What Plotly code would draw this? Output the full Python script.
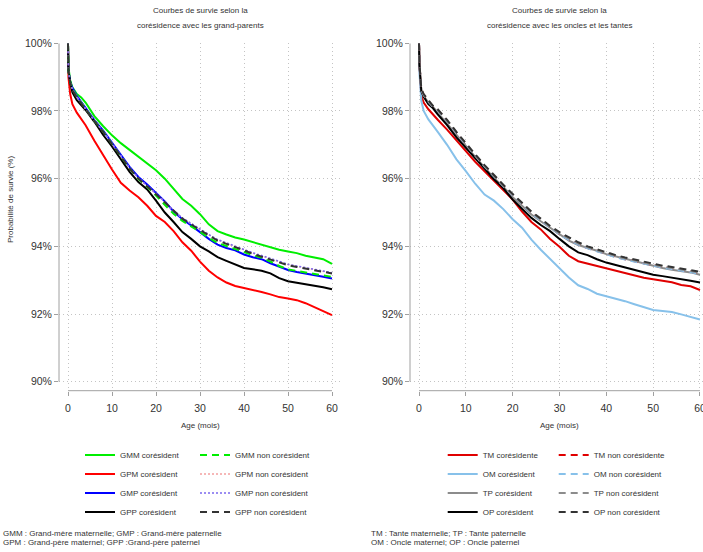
import plotly.graph_objects as go

# ---------------- data ----------------
age = [0, 0.1, 0.5, 1, 2, 3, 4, 6, 8, 10, 12, 14, 16, 18, 20, 22, 24, 26, 28, 30,
       32, 34, 36, 38, 40, 42, 44, 46, 48, 50, 52, 54, 56, 58, 60]

# Left panel: grands-parents
gmm_cor = [100, 99.3, 98.9, 98.7, 98.5, 98.4, 98.25, 97.85, 97.55, 97.28, 97.05, 96.85, 96.65, 96.45, 96.25, 96.0,
           95.7, 95.4, 95.2, 94.95, 94.65, 94.45, 94.35, 94.26, 94.2, 94.12, 94.05, 93.97, 93.9, 93.85, 93.8, 93.72,
           93.66, 93.62, 93.48]
gpm_cor = [100, 99.0, 98.5, 98.2, 97.95, 97.78, 97.58, 97.12, 96.68, 96.27, 95.88, 95.65, 95.45, 95.2, 94.9, 94.72,
           94.45, 94.12, 93.87, 93.55, 93.28, 93.08, 92.93, 92.83, 92.77, 92.72, 92.65, 92.58, 92.5, 92.46, 92.41,
           92.32, 92.2, 92.1, 91.97]
gmp_cor = [100, 99.2, 98.87, 98.68, 98.45, 98.27, 98.1, 97.73, 97.42, 97.06, 96.68, 96.35, 96.05, 95.83, 95.58, 95.33,
           95.03, 94.8, 94.62, 94.42, 94.22, 94.05, 93.95, 93.88, 93.76, 93.68, 93.62, 93.5, 93.39, 93.3, 93.24, 93.2,
           93.16, 93.1, 93.05]
gpp_cor = [100, 99.2, 98.84, 98.55, 98.32, 98.18, 98.03, 97.68, 97.29, 96.95, 96.58, 96.2, 95.9, 95.68, 95.35, 95.0,
           94.72, 94.42, 94.22, 94.0, 93.85, 93.68, 93.57, 93.46, 93.36, 93.32, 93.28, 93.2, 93.06, 92.97, 92.93,
           92.88, 92.84, 92.79, 92.73]
gmm_non = [100, 99.2, 98.86, 98.64, 98.42, 98.24, 98.08, 97.71, 97.39, 97.03, 96.64, 96.3, 95.99, 95.76, 95.5, 95.24,
           94.96, 94.75, 94.6, 94.43, 94.25, 94.1, 94.01, 93.93, 93.83, 93.74, 93.66, 93.55, 93.42, 93.32, 93.27,
           93.22, 93.18, 93.14, 93.1]
gpm_non = [100, 99.2, 98.85, 98.63, 98.41, 98.23, 98.07, 97.71, 97.39, 97.03, 96.65, 96.31, 96.01, 95.79, 95.55, 95.31,
           95.05, 94.83, 94.66, 94.5, 94.34, 94.19, 94.1, 94.0, 93.9, 93.8, 93.72, 93.62, 93.54, 93.46, 93.41, 93.36,
           93.31, 93.27, 93.21]
gmp_non = [100, 99.2, 98.86, 98.64, 98.42, 98.24, 98.07, 97.71, 97.4, 97.04, 96.66, 96.32, 96.02, 95.8, 95.56, 95.32,
           95.06, 94.84, 94.67, 94.51, 94.35, 94.2, 94.1, 94.01, 93.91, 93.81, 93.73, 93.64, 93.55, 93.47, 93.42,
           93.37, 93.32, 93.28, 93.22]
gpp_non = [100, 99.2, 98.85, 98.62, 98.4, 98.22, 98.06, 97.7, 97.38, 97.02, 96.64, 96.3, 96.0, 95.78, 95.54, 95.3,
           95.05, 94.82, 94.65, 94.48, 94.32, 94.17, 94.08, 93.99, 93.88, 93.78, 93.7, 93.6, 93.52, 93.44, 93.39,
           93.34, 93.3, 93.26, 93.2]

# Right panel: oncles et tantes
tm_cor = [100, 99.3, 98.45, 98.25, 98.05, 97.88, 97.74, 97.45, 97.13, 96.82, 96.5, 96.22, 95.94, 95.67, 95.38, 95.03,
          94.72, 94.5, 94.22, 93.99, 93.72, 93.56, 93.49, 93.41, 93.34, 93.27, 93.21, 93.14, 93.07, 93.03, 92.99,
          92.94, 92.86, 92.82, 92.71]
om_cor = [100, 99.1, 98.3, 98.0, 97.75, 97.55, 97.38, 97.0, 96.57, 96.22, 95.85, 95.53, 95.35, 95.1, 94.8, 94.55,
          94.2, 93.9, 93.63, 93.38, 93.08, 92.85, 92.74, 92.6, 92.53, 92.46, 92.38, 92.29, 92.2, 92.12, 92.09, 92.06,
          91.99, 91.92, 91.84]
tp_cor = [100, 99.35, 98.6, 98.45, 98.24, 98.12, 97.95, 97.62, 97.27, 96.96, 96.64, 96.33, 96.02, 95.76, 95.45, 95.2,
          94.94, 94.74, 94.55, 94.36, 94.17, 94.04, 93.96, 93.87, 93.77, 93.7, 93.62, 93.56, 93.48, 93.42, 93.36,
          93.31, 93.27, 93.23, 93.16]
op_cor = [100, 99.35, 98.58, 98.42, 98.2, 98.08, 97.9, 97.58, 97.22, 96.92, 96.6, 96.3, 95.98, 95.72, 95.38, 95.12,
          94.84, 94.63, 94.45, 94.22, 94.0, 93.82, 93.74, 93.62, 93.52, 93.45, 93.38, 93.3, 93.22, 93.16, 93.12,
          93.08, 93.04, 92.98, 92.93]
tm_non = [100, 99.38, 98.63, 98.48, 98.29, 98.13, 98.02, 97.71, 97.35, 97.01, 96.69, 96.37, 96.07, 95.79, 95.51, 95.26,
          94.98, 94.77, 94.55, 94.36, 94.2, 94.06, 93.95, 93.86, 93.77, 93.69, 93.62, 93.56, 93.49, 93.42, 93.38,
          93.34, 93.3, 93.26, 93.2]
om_non = [100, 99.37, 98.62, 98.47, 98.28, 98.12, 98.01, 97.7, 97.34, 97.0, 96.68, 96.36, 96.06, 95.78, 95.5, 95.25,
          94.97, 94.76, 94.54, 94.35, 94.19, 94.05, 93.94, 93.85, 93.76, 93.68, 93.61, 93.55, 93.48, 93.41, 93.37,
          93.33, 93.29, 93.25, 93.19]
tp_non = [100, 99.38, 98.62, 98.47, 98.29, 98.13, 98.02, 97.71, 97.35, 97.01, 96.69, 96.37, 96.07, 95.79, 95.52, 95.27,
          95.0, 94.79, 94.57, 94.38, 94.22, 94.08, 93.97, 93.88, 93.79, 93.71, 93.64, 93.58, 93.51, 93.44, 93.4,
          93.36, 93.32, 93.28, 93.22]
op_non = [100, 99.4, 98.65, 98.5, 98.32, 98.15, 98.05, 97.74, 97.38, 97.04, 96.72, 96.4, 96.1, 95.82, 95.55, 95.3,
          95.03, 94.82, 94.6, 94.42, 94.26, 94.12, 94.0, 93.91, 93.82, 93.74, 93.67, 93.61, 93.54, 93.47, 93.43,
          93.39, 93.35, 93.31, 93.25]

y_ticks = [90, 92, 94, 96, 98, 100]
y_tick_labels = ["90%", "92%", "94%", "96%", "98%", "100%"]
x_ticks = [0, 10, 20, 30, 40, 50, 60]

# ---------------- layout helpers ----------------
W, H = 703, 552
FONT = "Liberation Sans, Arial, sans-serif"
TXT = "#333333"
AX = "#a0a0a0"
GRID = "#c4c4c4"


def px_x(p):
    return p / W


def px_y(p):
    return 1 - p / H


fig = go.Figure()

left_series = [
    ("GMM corésident", gmm_cor, "#00ee00", "solid", 2, "legend"),
    ("GPM corésident", gpm_cor, "#ff0000", "solid", 2, "legend"),
    ("GMP corésident", gmp_cor, "#0000ff", "solid", 2, "legend"),
    ("GPP corésident", gpp_cor, "#000000", "solid", 2, "legend"),
    ("GMM non corésident", gmm_non, "#00ee00", "7px,5px", 2, "legend2"),
    ("GPM non corésident", gpm_non, "#f4a0a0", "2px,2px", 1.5, "legend2"),
    ("GMP non corésident", gmp_non, "#7b68ee", "2px,2px", 1.5, "legend2"),
    ("GPP non corésident", gpp_non, "#333333", "7px,5px", 2, "legend2"),
]
right_series = [
    ("TM corésidente", tm_cor, "#e00000", "solid", 2, "legend3"),
    ("OM corésident", om_cor, "#87c1ea", "solid", 2, "legend3"),
    ("TP corésident", tp_cor, "#8c8c8c", "solid", 2, "legend3"),
    ("OP corésident", op_cor, "#000000", "solid", 2, "legend3"),
    ("TM non corésidente", tm_non, "#e00000", "7px,5px", 2, "legend4"),
    ("OM non corésident", om_non, "#87c1ea", "7px,5px", 2, "legend4"),
    ("TP non corésident", tp_non, "#8c8c8c", "7px,5px", 2, "legend4"),
    ("OP non corésident", op_non, "#333333", "7px,5px", 2, "legend4"),
]

for name, vals, col, dash, w, leg in left_series:
    fig.add_trace(go.Scatter(x=age, y=vals, mode="lines", name=name,
                             line=dict(color=col, dash=dash, width=w),
                             xaxis="x", yaxis="y", legend=leg))
for name, vals, col, dash, w, leg in right_series:
    fig.add_trace(go.Scatter(x=age, y=vals, mode="lines", name=name,
                             line=dict(color=col, dash=dash, width=w),
                             xaxis="x2", yaxis="y2", legend=leg))

y_bottom = 390.7
y_top = 43.3
y_lo = 90 - (y_bottom - 381.7) / 33.85
ydom = [px_y(y_bottom), px_y(y_top)]

common_x = dict(tickvals=x_ticks, ticks="outside", ticklen=4, tickcolor=AX,
                showgrid=True, gridcolor=GRID, griddash="1px,3px", gridwidth=1,
                zeroline=False, showline=False, ticklabelstandoff=4,
                ticklabeloverflow="allow",
                tickfont=dict(family=FONT, size=10.5, color=TXT))
common_y = dict(tickvals=y_ticks, ticktext=y_tick_labels, ticks="outside", ticklen=4,
                tickcolor=AX, showgrid=True, gridcolor=GRID, griddash="1px,3px",
                gridwidth=1, zeroline=False, showline=False, range=[y_lo, 100],
                domain=ydom, tickfont=dict(family=FONT, size=10.5, color=TXT))

fig.update_layout(
    width=W, height=H,
    margin=dict(l=0, r=0, t=0, b=0, autoexpand=False),
    paper_bgcolor="white", plot_bgcolor="white",
    font=dict(family=FONT, size=8, color=TXT),
    xaxis=dict(domain=[px_x(59), px_x(340)], range=[(59 - 68) / 4.4, (340 - 68) / 4.4],
               anchor="y", **common_x),
    yaxis=dict(anchor="x", **common_y),
    xaxis2=dict(domain=[px_x(410), 1.0], range=[(410 - 419) / 4.683, (703 - 419) / 4.683],
                anchor="y2", **common_x),
    yaxis2=dict(anchor="x2", **common_y),
)

legend_common = dict(bgcolor="rgba(0,0,0,0)", borderwidth=0, orientation="v",
                     xanchor="left", yanchor="top", y=px_y(440.5),
                     font=dict(family=FONT, size=8, color=TXT), itemclick=False,
                     itemdoubleclick=False, tracegroupgap=0)
fig.update_layout(
    legend=dict(x=px_x(80), **legend_common),
    legend2=dict(x=px_x(195), **legend_common),
    legend3=dict(x=px_x(442.7), **legend_common),
    legend4=dict(x=px_x(553.7), **legend_common),
)

# R-style detached axis lines
for xa, ya in (("x", "y"), ("x2", "y2")):
    fig.add_shape(type="line", xref=xa, yref=ya + " domain", x0=0, x1=60, y0=0, y1=0,
                  line=dict(color=AX, width=1))
    fig.add_shape(type="line", xref=xa + " domain", yref=ya, x0=0, x1=0, y0=90, y1=100,
                  line=dict(color=AX, width=1))


def ann(text, x, y, size=8, xanchor="center", angle=0):
    fig.add_annotation(text=text, x=px_x(x), y=px_y(y), xref="paper", yref="paper",
                       xanchor=xanchor, yanchor="middle", showarrow=False, textangle=angle,
                       font=dict(family=FONT, size=size, color=TXT))


ann("Courbes de survie selon la", 200, 11)
ann("corésidence avec les grand-parents", 200, 25.7)
ann("Courbes de survie selon la", 559.5, 11)
ann("corésidence avec les oncles et les tantes", 559.5, 25.7)
ann("Age (mois)", 200, 425.7)
ann("Age (mois)", 559.5, 425.7)
ann("Probabilité de survie (%)", 10, 200, angle=-90)
ann("GMM : Grand-mère maternelle; GMP : Grand-mère paternelle", 1, 533.3, xanchor="left")
ann("GPM : Grand-père maternel; GPP :Grand-père paternel", 1, 542.3, xanchor="left")
ann("TM : Tante maternelle; TP : Tante paternelle", 369, 533.3, xanchor="left")
ann("OM : Oncle maternel; OP : Oncle paternel", 369, 542.3, xanchor="left")

fig.write_html("out.html")
